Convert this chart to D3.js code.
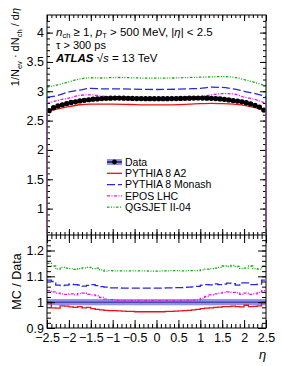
<!DOCTYPE html>
<html>
<head>
<meta charset="utf-8">
<script src="https://cdn.jsdelivr.net/npm/d3@7/dist/d3.min.js"></script>
<style>
  body { margin: 0; background: #fff; }
  svg { display: block; font-family: "Liberation Sans", Arial, Helvetica, sans-serif; }
</style>
</head>
<body>
<svg id="chart" width="283" height="366"></svg>
<script>
// ---- data ----
// 50 bins of width 0.1 between eta = -2.5 and 2.5
const binEdges = d3.range(-2.5, 2.5001, 0.1).map(v => +v.toFixed(2));

const dataVals = [
  2.67, 2.72, 2.75, 2.77, 2.79, 2.81, 2.82, 2.835, 2.845, 2.855,
  2.865, 2.87, 2.875, 2.88, 2.882, 2.884, 2.884, 2.882, 2.88, 2.878,
  2.876, 2.875, 2.874, 2.873, 2.873, 2.873, 2.873, 2.874, 2.875, 2.876,
  2.878, 2.88, 2.882, 2.884, 2.885, 2.884, 2.882, 2.88, 2.875, 2.87,
  2.862, 2.852, 2.842, 2.832, 2.82, 2.805, 2.785, 2.76, 2.73, 2.68
];
const dataRelErr = 0.012;

// MC predictions in the upper panel (smooth curves)
const mcEta = [-2.5, -2.25, -2, -1.75, -1.5, -1.25, -1, -0.75, -0.5, -0.25, 0,
               0.25, 0.5, 0.75, 1, 1.25, 1.5, 1.75, 2, 2.25, 2.5];
const a2Vals     = [2.66, 2.70, 2.74, 2.77, 2.78, 2.78, 2.78, 2.778, 2.772, 2.768, 2.767,
                    2.768, 2.772, 2.78, 2.79, 2.795, 2.79, 2.78, 2.76, 2.72, 2.67];
const monashVals = [2.90, 2.93, 2.99, 3.02, 3.05, 3.042, 3.04, 3.04, 3.035, 3.032, 3.03,
                    3.032, 3.036, 3.042, 3.05, 3.07, 3.065, 3.04, 3.00, 2.96, 2.91];
const eposVals   = [2.79, 2.846, 2.884, 2.93, 2.94, 2.918, 2.905, 2.90, 2.893, 2.891, 2.89,
                    2.891, 2.893, 2.90, 2.91, 2.94, 2.96, 2.955, 2.90, 2.86, 2.79];
const qgsVals    = [3.07, 3.11, 3.16, 3.21, 3.23, 3.226, 3.234, 3.235, 3.228, 3.225, 3.224,
                    3.225, 3.228, 3.235, 3.24, 3.245, 3.25, 3.24, 3.20, 3.15, 3.09];

// MC / Data ratios, per bin
const a2Ratio = [
  1.000, 0.978, 0.977, 0.986, 0.985, 0.982, 0.980, 0.983, 0.978, 0.980,
  0.975, 0.972, 0.970, 0.968, 0.967, 0.967, 0.966, 0.965, 0.964, 0.964,
  0.963, 0.963, 0.963, 0.963, 0.963, 0.963, 0.963, 0.964, 0.964, 0.965,
  0.966, 0.967, 0.968, 0.970, 0.972, 0.975, 0.977, 0.978, 0.980, 0.981,
  0.983, 0.983, 0.985, 0.983, 0.982, 0.988, 0.983, 0.984, 0.986, 1.000
];
const monashRatio = [
  1.085, 1.080, 1.066, 1.064, 1.066, 1.070, 1.068, 1.066, 1.062, 1.065,
  1.068, 1.064, 1.060, 1.058, 1.055, 1.055, 1.055, 1.054, 1.054, 1.054,
  1.054, 1.054, 1.054, 1.054, 1.054, 1.054, 1.054, 1.055, 1.055, 1.056,
  1.056, 1.057, 1.058, 1.059, 1.061, 1.066, 1.068, 1.067, 1.071, 1.068,
  1.070, 1.074, 1.072, 1.066, 1.075, 1.075, 1.068, 1.068, 1.070, 1.085
];
const eposRatio = [
  1.045, 1.040, 1.035, 1.032, 1.030, 1.032, 1.028, 1.033, 1.035, 1.030,
  1.028, 1.025, 1.018, 1.012, 1.010, 1.008, 1.007, 1.006, 1.006, 1.006,
  1.006, 1.006, 1.006, 1.006, 1.006, 1.006, 1.006, 1.006, 1.006, 1.006,
  1.006, 1.006, 1.007, 1.008, 1.009, 1.015, 1.022, 1.028, 1.032, 1.035,
  1.038, 1.040, 1.038, 1.036, 1.030, 1.035, 1.030, 1.032, 1.038, 1.045
];
const qgsRatio = [
  1.150, 1.140, 1.128, 1.135, 1.132, 1.130, 1.127, 1.130, 1.133, 1.135,
  1.130, 1.132, 1.125, 1.120, 1.122, 1.121, 1.121, 1.121, 1.121, 1.121,
  1.121, 1.121, 1.121, 1.120, 1.120, 1.120, 1.121, 1.121, 1.122, 1.122,
  1.121, 1.121, 1.122, 1.122, 1.122, 1.125, 1.128, 1.130, 1.132, 1.135,
  1.140, 1.138, 1.142, 1.138, 1.130, 1.132, 1.140, 1.130, 1.128, 1.140
];

const upperTicks = [1, 1.5, 2, 2.5, 3, 3.5, 4];
const lowerTicks = [0.9, 1, 1.1, 1.2];
const xTicks = [-2.5, -2, -1.5, -1, -0.5, 0, 0.5, 1, 1.5, 2, 2.5];

const series = [
  { name: 'PYTHIA 8 A2',     vals: a2Vals,     ratio: a2Ratio,     color: '#ee1111', dash: null },
  { name: 'PYTHIA 8 Monash', vals: monashVals, ratio: monashRatio, color: '#2828e0', dash: '8,3' },
  { name: 'EPOS LHC',        vals: eposVals,   ratio: eposRatio,   color: '#ee11ee', dash: '3,1.5,1,1.5' },
  { name: 'QGSJET II-04',    vals: qgsVals,    ratio: qgsRatio,    color: '#11aa11', dash: '2.5,1.5,1,1.5,1,1.5' }
];

// ---- layout ----
const L = 47, R = 266, T = 15, M = 235, B = 328;
const BAND = '#8f8ff5';

const svg = d3.select('#chart');
const x = d3.scaleLinear().domain([-2.5, 2.5]).range([L, R]);
const yU = d3.scaleLinear().domain([0.55, 4.3]).range([M, T]);
const yL = d3.scaleLinear().domain([0.9, 1.26]).range([B, M]);

const centres = dataVals.map((_, i) => (binEdges[i] + binEdges[i + 1]) / 2);

// clip paths for each pad
const defs = svg.append('defs');
defs.append('clipPath').attr('id', 'clipU').append('rect')
  .attr('x', L).attr('y', T).attr('width', R - L).attr('height', M - T);
defs.append('clipPath').attr('id', 'clipL').append('rect')
  .attr('x', L).attr('y', M).attr('width', R - L).attr('height', B - M);

// ===== upper pad =====
const up = svg.append('g').attr('clip-path', 'url(#clipU)');

// data uncertainty band
up.append('path')
  .attr('fill', BAND)
  .attr('d', d3.area()
    .curve(d3.curveStepAfter)
    .x((d, i) => x(binEdges[i]))
    .y0(d => yU(d * (1 - dataRelErr)))
    .y1(d => yU(d * (1 + dataRelErr)))([...dataVals, dataVals[dataVals.length - 1]]));

const smooth = d3.line().curve(d3.curveMonotoneX)
  .x((d, i) => x(mcEta[i])).y(d => yU(d));

series.slice().reverse().forEach(s => {
  up.append('path')
    .attr('fill', 'none')
    .attr('stroke', s.color)
    .attr('stroke-width', 1.3)
    .attr('stroke-dasharray', s.dash)
    .attr('d', smooth(s.vals));
});

// data points
up.append('path')
  .attr('fill', 'none').attr('stroke', '#000').attr('stroke-width', 1.4)
  .attr('d', d3.line().x((d, i) => x(centres[i])).y(d => yU(d))(dataVals));
up.selectAll('circle.pt')
  .data(dataVals)
  .enter()
  .append('circle')
  .attr('class', 'pt')
  .attr('cx', (d, i) => x(centres[i]))
  .attr('cy', d => yU(d))
  .attr('r', 2.6)
  .attr('fill', '#000');

// ===== lower pad =====
const lo = svg.append('g').attr('clip-path', 'url(#clipL)');
lo.append('rect')
  .attr('x', L).attr('width', R - L)
  .attr('y', yL(1 + dataRelErr)).attr('height', yL(1 - dataRelErr) - yL(1 + dataRelErr))
  .attr('fill', BAND);
lo.append('line')
  .attr('x1', L).attr('x2', R).attr('y1', yL(1)).attr('y2', yL(1))
  .attr('stroke', '#2a2a70').attr('stroke-width', 1);

const step = d3.line().curve(d3.curveStepAfter)
  .x((d, i) => x(binEdges[i])).y(d => yL(d));

series.slice().reverse().forEach(s => {
  lo.append('path')
    .attr('fill', 'none')
    .attr('stroke', s.color)
    .attr('stroke-width', 1.3)
    .attr('stroke-dasharray', s.dash)
    .attr('d', step([...s.ratio, s.ratio[s.ratio.length - 1]]));
});

// ===== frames and ticks =====
function ticksAxis(axisFn, scale, pos, major, minor, majLen, minLen, labels, fs) {
  const g = svg.append('g').attr('transform', pos);
  g.call(axisFn(scale).tickValues(minor).tickSize(-minLen).tickFormat(''));
  const g2 = svg.append('g').attr('transform', pos);
  g2.call(axisFn(scale).tickValues(major).tickSize(-majLen).tickPadding(3)
    .tickFormat(labels ? d3.format('~g') : ''));
  [g, g2].forEach(a => {
    a.select('.domain').remove();
    a.selectAll('line').attr('stroke', '#000').attr('stroke-width', 1);
    a.selectAll('text').attr('font-size', fs).attr('fill', '#000')
      .style('font-family', '"Liberation Sans", Arial, Helvetica, sans-serif');
  });
  return g2;
}

const xMinor = d3.range(-2.5, 2.5001, 0.1).map(v => +v.toFixed(2));
const yUMinor = d3.range(0.6, 4.3, 0.1).map(v => +v.toFixed(2));
const yLMinor = d3.range(0.9, 1.26, 0.02).map(v => +v.toFixed(2));
const FS = 12.5;

// upper pad
ticksAxis(d3.axisLeft, yU, `translate(${L},0)`, upperTicks, yUMinor, 6, 3, true, FS);
ticksAxis(d3.axisRight, yU, `translate(${R},0)`, upperTicks, yUMinor, 6, 3, false, FS);
ticksAxis(d3.axisTop, x, `translate(0,${T})`, xTicks, xMinor, 6, 3, false, FS);
ticksAxis(d3.axisBottom, x, `translate(0,${M})`, xTicks, xMinor, 6, 3, false, FS);
// lower pad
ticksAxis(d3.axisLeft, yL, `translate(${L},0)`, lowerTicks, yLMinor, 8, 4, true, FS);
ticksAxis(d3.axisRight, yL, `translate(${R},0)`, lowerTicks, yLMinor, 8, 4, false, FS);
ticksAxis(d3.axisTop, x, `translate(0,${M})`, xTicks, xMinor, 8, 4, false, FS);
const xb = ticksAxis(d3.axisBottom, x, `translate(0,${B})`, xTicks, xMinor, 8, 4, true, FS);
xb.selectAll('text').attr('dy', '0.9em');

svg.append('rect').attr('x', L).attr('y', T).attr('width', R - L).attr('height', B - T)
  .attr('fill', 'none').attr('stroke', '#000').attr('stroke-width', 1);
svg.append('line').attr('x1', L).attr('x2', R).attr('y1', M).attr('y2', M)
  .attr('stroke', '#000').attr('stroke-width', 1);

// edge lines of the MC histograms in the upper pad
series.forEach(s => {
  [[mcEta[0], s.vals[0]], [mcEta[mcEta.length - 1], s.vals[s.vals.length - 1]]].forEach(([e, v]) => {
    svg.append('line')
      .attr('x1', x(e)).attr('x2', x(e)).attr('y1', yU(v)).attr('y2', M)
      .attr('stroke', s.color).attr('stroke-width', 0.8).attr('opacity', 0.6);
  });
});

// ===== texts =====
const txt = svg.append('g').attr('fill', '#000');

const l1 = txt.append('text').attr('x', 56).attr('y', 35.5).attr('font-size', 11.5);
l1.append('tspan').attr('font-style', 'italic').text('n');
l1.append('tspan').attr('font-size', 7.5).attr('dy', 2).text('ch');
l1.append('tspan').attr('dy', -2).text(' \u2265 1, ');
l1.append('tspan').attr('font-style', 'italic').text('p');
l1.append('tspan').attr('font-size', 7.5).attr('dy', 2).text('T');
l1.append('tspan').attr('dy', -2).text(' > 500 MeV, |');
l1.append('tspan').attr('font-style', 'italic').text('\u03b7');
l1.append('tspan').text('| < 2.5');

txt.append('text').attr('x', 56).attr('y', 48.5).attr('font-size', 11).text('\u03c4 > 300 ps');

const l3 = txt.append('text').attr('x', 56).attr('y', 62).attr('font-size', 11.5);
l3.append('tspan').attr('font-weight', 'bold').attr('font-style', 'italic').text('ATLAS');
l3.append('tspan').text('  \u221a');
l3.append('tspan').attr('font-style', 'italic').text('s');
l3.append('tspan').text(' = 13 TeV');

// y-axis titles
const yt = txt.append('text')
  .attr('transform', 'translate(19,8) rotate(-90)')
  .attr('text-anchor', 'end')
  .attr('font-size', 11);
yt.append('tspan').text('1/N');
yt.append('tspan').attr('font-size', 7.5).attr('dy', 2.5).text('ev');
yt.append('tspan').attr('dy', -2.5).text(' \u00b7 dN');
yt.append('tspan').attr('font-size', 7.5).attr('dy', 2.5).text('ch');
yt.append('tspan').attr('dy', -2.5).text(' / d');
yt.append('tspan').attr('font-style', 'italic').text('\u03b7');

txt.append('text')
  .attr('transform', `translate(21,${(M + B) / 2}) rotate(-90)`)
  .attr('text-anchor', 'middle')
  .attr('font-size', 12.5)
  .text('MC / Data');

txt.append('text').attr('x', 259).attr('y', 359).attr('font-size', 13)
  .attr('font-style', 'italic').text('\u03b7');

// ===== legend =====
const lg = svg.append('g').attr('transform', 'translate(107,162)');
const rowH = 11.3;
const lgItems = [{ name: 'Data' }].concat(series);
lgItems.forEach((s, i) => {
  const g = lg.append('g').attr('transform', `translate(0,${i * rowH})`);
  if (!s.color) {
    g.append('rect').attr('x', 0).attr('y', -3).attr('width', 15).attr('height', 6).attr('fill', BAND);
    g.append('line').attr('x1', 0).attr('x2', 15).attr('stroke', '#000').attr('stroke-width', 1.2);
    g.append('circle').attr('cx', 7.5).attr('r', 2.4).attr('fill', '#000');
  } else {
    g.append('line').attr('x1', 0).attr('x2', 15)
      .attr('stroke', s.color).attr('stroke-width', 1.3).attr('stroke-dasharray', s.dash);
  }
  g.append('text').attr('x', 18).attr('y', 3.6).attr('font-size', 10.5).text(s.name);
});
</script>
</body>
</html>
